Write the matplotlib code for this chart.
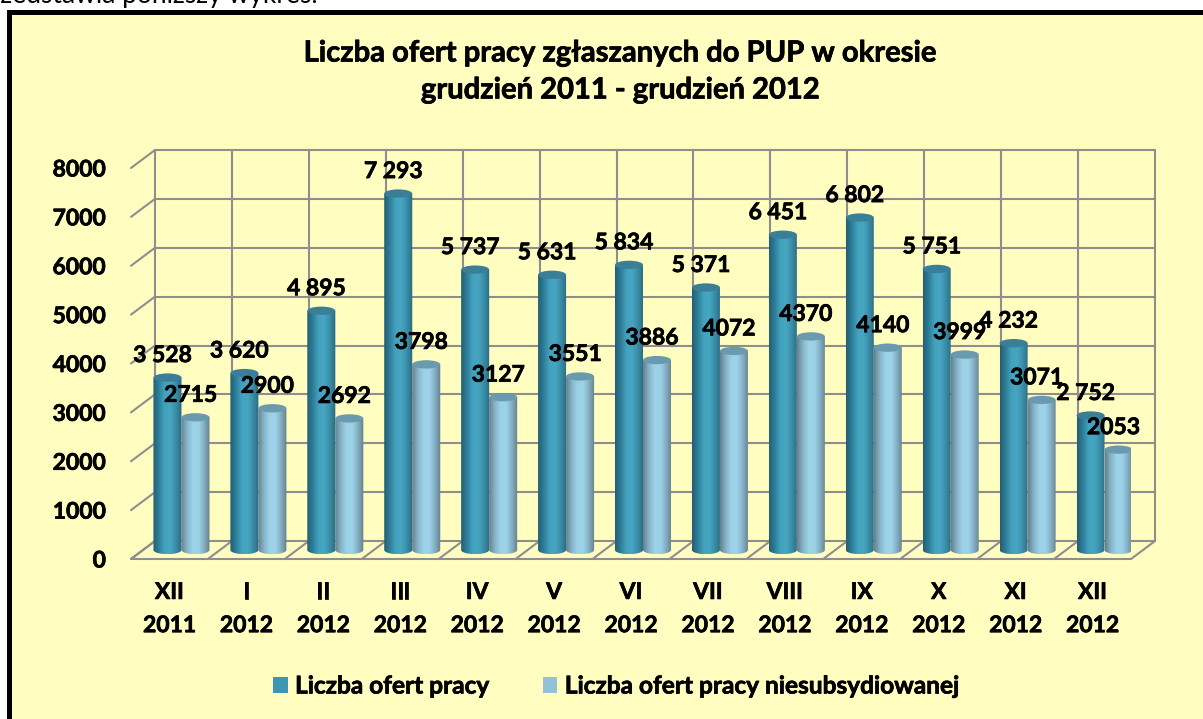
import numpy as np
import matplotlib
matplotlib.use("Agg")
import matplotlib.pyplot as plt
import matplotlib.patheffects as pe
from matplotlib.colors import LinearSegmentedColormap
from matplotlib.patches import Ellipse, Patch, Rectangle
from matplotlib.path import Path

months = ["XII", "I", "II", "III", "IV", "V", "VI", "VII", "VIII", "IX", "X", "XI", "XII"]
years = ["2011"] + ["2012"] * 12
oferty = [3528, 3620, 4895, 7293, 5737, 5631, 5834, 5371, 6451, 6802, 5751, 4232, 2752]
niesubs = [2715, 2900, 2692, 3798, 3127, 3551, 3886, 4072, 4370, 4140, 3999, 3071, 2053]
yticks = [0, 1000, 2000, 3000, 4000, 5000, 6000, 7000, 8000]
series_names = ["Liczba ofert pracy", "Liczba ofert pracy niesubsydiowanej"]

W, H = 1203, 719
FONT = "Lato"
BG = "#FFFDC0"
GRID = "#8E8E8E"
# lato bold is lighter than the font in the picture
HEAVY = [pe.withStroke(linewidth=0.5, foreground="black")]

# depth of the fake 3d box, in data units
DEPTH_X = 24 / 76.9
DEPTH_Y = 18 / (391 / 8000)
BASE_Y = DEPTH_Y * 0.5
BAR_W = 28 / 76.9
CAP_H = 170
# data labels sit off the bar top by this many pixels
LABEL_DX, LABEL_DY = -5, 22

dark_cm = LinearSegmentedColormap.from_list("dark", ["#235F76", "#2E7F99", "#43A2BE", "#46A6C2", "#3A8CA6", "#2A6A80"])
light_cm = LinearSegmentedColormap.from_list("light", ["#66808F", "#86B4C8", "#9CD2E8", "#9DD3E9", "#84AFC2", "#667F8D"])


def px_rect(x0, y0, x1, y1, color, zorder):
    # rectangle on the figure given in image pixels
    return Rectangle((x0 / W, 1 - y1 / H), (x1 - x0) / W, (y1 - y0) / H, transform=fig.transFigure,
                     facecolor=color, edgecolor="none", zorder=zorder)


def cylinder(ax, xc, value, cmap, cap_color):
    top = BASE_Y + value
    x0, x1 = xc - BAR_W / 2, xc + BAR_W / 2
    t = np.linspace(0, np.pi, 40)
    xs = xc + np.cos(t) * BAR_W / 2
    outline = np.vstack([[x1, top], [x0, top], np.column_stack([xs[::-1], BASE_Y - np.sin(t) * CAP_H / 2]), [x1, top]])
    grad = np.linspace(0, 1, 64).reshape(1, -1)
    im = ax.imshow(grad, cmap=cmap, extent=(x0, x1, BASE_Y - CAP_H / 2, top), aspect="auto",
                   interpolation="bilinear", zorder=3)
    im.set_clip_path(Path(outline), transform=ax.transData)
    ax.add_patch(Ellipse((xc, top), BAR_W, CAP_H, facecolor=cap_color, edgecolor="none", zorder=3.1))


def value_label(ax, text, xc, value):
    ax.annotate(text, (xc, BASE_Y + value), xytext=(LABEL_DX, LABEL_DY), textcoords="offset pixels",
                ha="center", va="center", fontsize=16.5, fontweight="bold", family=FONT, zorder=5,
                annotation_clip=False, path_effects=HEAVY)


fig = plt.figure(figsize=(W / 100, H / 100), dpi=100, facecolor="white")
fig.add_artist(px_rect(7, 10, W + 5, H + 5, "black", -2))
fig.add_artist(px_rect(12, 15, W + 5, H + 5, BG, -1))

ax = fig.add_axes([131 / W, 1 - 559 / H, 1000 / W, 391 / H])
ax.patch.set_visible(False)
for s in ax.spines.values():
    s.set_visible(False)

n = len(months)
left, right = -0.5, n - 0.5
line = dict(color=GRID, lw=1.5, clip_on=False, zorder=1, solid_capstyle="round")

# back wall and side wall
for v in yticks:
    ax.plot([left + DEPTH_X, right + DEPTH_X], [v + DEPTH_Y, v + DEPTH_Y], **line)
    ax.plot([left, left + DEPTH_X], [v, v + DEPTH_Y], **line)
for i in range(n + 1):
    ax.plot([left + i + DEPTH_X] * 2, [DEPTH_Y, 8000 + DEPTH_Y], **line)
    ax.plot([left + i, left + i + DEPTH_X], [0, DEPTH_Y], **line)
ax.plot([left, right], [0, 0], **line)

for i in range(n):
    centre = i + DEPTH_X / 2
    cylinder(ax, centre - BAR_W / 2, oferty[i], dark_cm, "#3A7F97")
    cylinder(ax, centre + BAR_W / 2, niesubs[i], light_cm, "#6A9AAE")
    value_label(ax, f"{oferty[i]:,}".replace(",", " "), centre - BAR_W / 2, oferty[i])
    value_label(ax, str(niesubs[i]), centre + BAR_W / 2, niesubs[i])

ax.set_xlim(left, right)
ax.set_ylim(0, 8000)
ax.set_yticks(yticks)
ax.set_yticklabels([str(v) for v in yticks], fontsize=16.5, fontweight="bold", family=FONT, path_effects=HEAVY)
ax.set_xticks(range(n))
ax.set_xticklabels([f"{m}\n{y}" for m, y in zip(months, years)], fontsize=16.5, fontweight="bold", family=FONT,
                   linespacing=1.72, path_effects=HEAVY)
ax.tick_params(axis="y", length=0, pad=18)
ax.tick_params(axis="x", length=0, pad=16.5)

fig.text(620 / W, 1 - 72 / H, "Liczba ofert pracy zgłaszanych do PUP w okresie\ngrudzień 2011 - grudzień 2012",
         ha="center", va="center", fontsize=21, fontweight="bold", family=FONT, linespacing=1.52, path_effects=HEAVY)
fig.text(318 / W, 1 - 3 / H, "przedstawia poniższy wykres.", ha="right", va="baseline", fontsize=19, family=FONT)

handles = [Patch(facecolor="#3F96B2", label=series_names[0]), Patch(facecolor="#92C2D8", label=series_names[1])]
leg = fig.legend(handles=handles, loc="center", bbox_to_anchor=(616 / W, 1 - 686 / H), ncol=2, frameon=False,
                 handlelength=0.61, handleheight=0.61, handletextpad=0.3, columnspacing=2.17,
                 prop=dict(family=FONT, weight="bold", size=17.6))
for t in leg.get_texts():
    t.set_path_effects(HEAVY)

fig.savefig("out.png", dpi=100, facecolor=fig.get_facecolor())
